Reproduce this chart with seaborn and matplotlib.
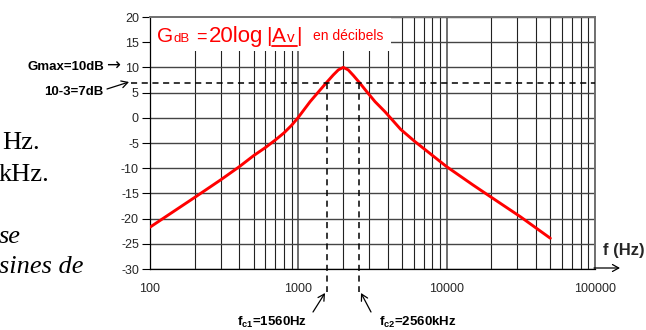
import numpy as np
import pandas as pd
import seaborn as sns
import matplotlib.pyplot as plt
from matplotlib.patches import Rectangle
from matplotlib.ticker import LogLocator, NullFormatter, FixedLocator

# values
freq = [100, 200, 300, 400, 500, 600, 700, 800, 900, 1000, 1200, 1400, 1550, 1720, 1860,
        2010, 2170, 2350, 2580, 2890, 3290, 3840, 4900, 6100, 10000, 15000, 19600, 31300, 50000]
gain = [-21.7, -15.8, -12.3, -9.7, -7.5, -5.9, -4.4, -3.0, -1.5, 0.1, 3.2, 5.5, 7.0, 8.5, 9.5,
        10.0, 9.5, 8.4, 7.0, 5.2, 3.2, 1.2, -2.3, -4.7, -9.7, -13.3, -15.6, -19.6, -23.9]
g_cut = 7
fc1 = 1560
fc2 = 2560
x_ticks = [100, 1000, 10000, 100000]
y_ticks = list(range(-30, 21, 5))

sns.set_style("white")
plt.rcParams['font.family'] = ['Liberation Sans', 'DejaVu Sans']
plt.rcParams['axes.unicode_minus'] = False
plt.rcParams['mathtext.fontset'] = 'custom'
plt.rcParams['mathtext.rm'] = 'Liberation Sans'
plt.rcParams['mathtext.bf'] = 'Liberation Sans:bold'

W, H = 646, 330
fig = plt.figure(figsize=(W / 100, H / 100), dpi=100)
ax = fig.add_axes([150 / W, 1 - 269 / H, 445 / W, 252 / H])

def fp(x, y):
    return (x / W, 1 - y / H)

def arrow(start, end):
    ax.annotate("", xy=fp(*end), xytext=fp(*start), xycoords="figure fraction",
                textcoords="figure fraction", annotation_clip=False,
                arrowprops=dict(arrowstyle="->,head_length=0.45,head_width=0.25",
                                color="black", lw=0.9, shrinkA=0, shrinkB=0))

df = pd.DataFrame({"f": freq, "G": gain})
sns.lineplot(data=df, x="f", y="G", ax=ax, color="red", lw=2.1, zorder=3)

ax.set_xscale("log")
ax.set_xlim(100, 100000)
ax.set_ylim(-30, 20)
ax.set_xlabel("")
ax.set_ylabel("")

ax.xaxis.set_major_locator(FixedLocator(x_ticks))
ax.set_xticklabels([str(v) for v in x_ticks])
ax.xaxis.set_minor_locator(LogLocator(base=10, subs=np.arange(2, 10)))
ax.xaxis.set_minor_formatter(NullFormatter())
ax.set_yticks(y_ticks)

ax.grid(which="major", axis="x", color="#707070", lw=1.4)
ax.grid(which="minor", axis="x", color="#222222", lw=0.8)
ax.grid(which="major", axis="y", color="#444444", lw=1.0)
ax.tick_params(axis="x", which="major", direction="out", length=4, width=0.8,
               pad=6, labelsize=9, color="black")
ax.tick_params(axis="x", which="minor", length=0)
ax.tick_params(axis="y", direction="out", length=6, width=0.8, pad=2,
               labelsize=9, color="black", left=True)
for side in ["top", "right"]:
    ax.spines[side].set_color("#707070")
    ax.spines[side].set_linewidth(1.4)
for side in ["left", "bottom"]:
    ax.spines[side].set_color("black")
    ax.spines[side].set_linewidth(0.9)

# white box behind the title text
ax.add_patch(Rectangle((0, (269 - 51) / 252), (391 - 150) / 445, (51 - 17) / 252,
                       transform=ax.transAxes, facecolor="white", edgecolor="none",
                       zorder=2.2))

# title pieces
red = "#ff0000"
fig.text(*fp(157, 42), "G", color=red, fontsize=15, va="baseline")
fig.text(*fp(173, 42), "dB", color=red, fontsize=9.5, va="baseline")
fig.text(*fp(196, 42), "=", color=red, fontsize=13, va="baseline")
fig.text(*fp(209, 42), "20log", color=red, fontsize=16, va="baseline")
fig.text(*fp(266, 42), "|", color=red, fontsize=15, va="baseline")
fig.text(*fp(272, 42), "A", color=red, fontsize=15, va="baseline")
fig.text(*fp(287, 42), "v", color=red, fontsize=11, va="baseline")
fig.text(*fp(296, 42), "|", color=red, fontsize=15, va="baseline")
fig.add_artist(plt.Line2D([272 / W, 297 / W], [1 - 45.5 / H, 1 - 45.5 / H], color=red, lw=1.3))
fig.text(*fp(313, 40), "en décibels", color=red, fontsize=10, va="baseline")

# -3 dB dashed lines
dash = dict(color="black", lw=1.1, ls=(0, (4, 3)), clip_on=False, zorder=4)
ax.plot([-19 / 445, 1], [g_cut, g_cut], transform=ax.get_yaxis_transform(), **dash)
low = -30 - 23 / 5.04
ax.plot([fc1, fc1], [g_cut, low], **dash)
ax.plot([fc2, fc2], [g_cut, low], **dash)

bold = dict(fontsize=9.5, fontweight="bold", color="black")

fig.text(*fp(104, 67), "Gmax=10dB", ha="right", va="center", **bold)
fig.text(*fp(106, 66), "\u2192", ha="left", va="center", fontsize=12,
         family="DejaVu Sans", color="black")
fig.text(*fp(103, 92), "10-3=7dB", ha="right", va="center", **bold)
arrow((107, 89), (129, 82))

fig.text(*fp(272, 322), r"f$_\mathbf{c1}$=1560Hz", ha="center", va="center", **bold)
arrow((313, 312), (325, 293))
fig.text(*fp(379, 322), r"f$_\mathbf{c2}$=2560kHz", ha="left", va="center", **bold)
arrow((371, 312), (361, 293))

fig.text(*fp(603, 251), "f (Hz)", ha="left", va="center", fontsize=12,
         fontweight="bold")
arrow((594, 268), (620, 268))

# fragments of the surrounding document text
serif = dict(family="Liberation Serif", fontsize=19, color="black", va="baseline")
fig.text(*fp(2, 149), "Hz.", **serif)
fig.text(*fp(-1, 181), "kHz.", **serif)
fig.text(*fp(-1, 243), "se", style="italic", **serif)
fig.text(*fp(-1, 273), "sines de", style="italic", **serif)

fig.savefig("out.png", dpi=100)
